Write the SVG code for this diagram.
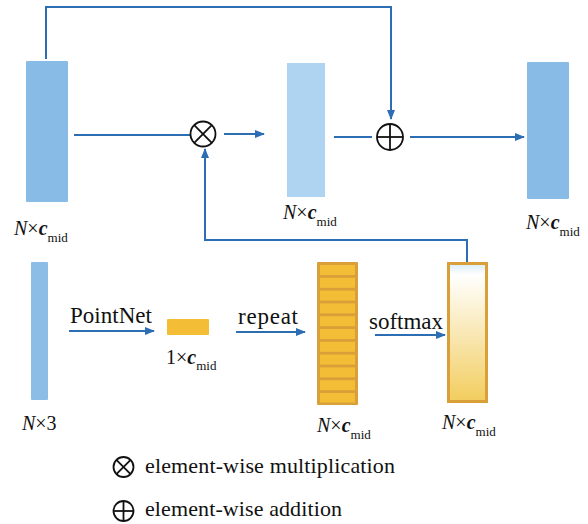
<svg xmlns="http://www.w3.org/2000/svg" width="588" height="524" viewBox="0 0 588 524">
<defs>
<style>
.conn{fill:none;stroke:#2C6DB4;stroke-width:2}
.op{fill:#fff;stroke:#111;stroke-width:1.8}
.opl{stroke:#111;stroke-width:1.8}
.lbl{font-family:"Liberation Serif",serif;font-size:20px;fill:#111}
.big{font-size:23px}
.leg{font-size:22px}
.sub{font-size:13px;font-style:normal;font-weight:normal}
.it{font-style:italic}
.bit{font-style:italic;font-weight:bold}
.blue{fill:#88BBE6}
.light{fill:#AFD4F1}
.org{fill:#F3BD35}
</style>
<marker id="ah" viewBox="0 0 10 10" refX="9" refY="5" markerWidth="5" markerHeight="5" orient="auto" markerUnits="strokeWidth">
<path d="M0,1 L10,5 L0,9 Z" fill="#2C6DB4"/>
</marker>
<linearGradient id="gr" x1="0" y1="0" x2="0" y2="1">
<stop offset="0" stop-color="#D8ECF7"/>
<stop offset="0.08" stop-color="#FFFFFF"/>
<stop offset="1" stop-color="#F2CD5E"/>
</linearGradient>
</defs>
<rect width="588" height="524" fill="#fff"/>

<g id="connectors">
<polyline class="conn" points="46,59 46,7 391,7 391,119" marker-end="url(#ah)"/>
<line class="conn" x1="74" y1="135" x2="190" y2="135"/>
<line class="conn" x1="224" y1="134" x2="264" y2="134" marker-end="url(#ah)"/>
<line class="conn" x1="334" y1="137" x2="372" y2="137"/>
<line class="conn" x1="410" y1="137" x2="524" y2="137" marker-end="url(#ah)"/>
<polyline class="conn" points="467,262 467,240 205,240 205,149" marker-end="url(#ah)"/>
<line class="conn" x1="69" y1="331" x2="154" y2="331" marker-end="url(#ah)"/>
<line class="conn" x1="236" y1="332" x2="305" y2="332" marker-end="url(#ah)"/>
<line class="conn" x1="375" y1="335" x2="445" y2="335" marker-end="url(#ah)"/>
</g>

<g id="input-features">
<rect class="blue" x="26" y="61" width="42" height="141" rx="1"/>
<text class="lbl" x="14" y="235"><tspan class="it">N</tspan>×<tspan class="bit">c</tspan><tspan class="sub" dy="7">mid</tspan></text>
</g>

<g id="multiply">
<circle class="op" cx="203" cy="134" r="12.5"/>
<line class="opl" x1="194.2" y1="125.2" x2="211.8" y2="142.8"/>
<line class="opl" x1="211.8" y1="125.2" x2="194.2" y2="142.8"/>
</g>

<g id="weighted-features">
<rect class="light" x="287" y="63" width="38" height="134"/>
<text class="lbl" x="283" y="219"><tspan class="it">N</tspan>×<tspan class="bit">c</tspan><tspan class="sub" dy="7">mid</tspan></text>
</g>

<g id="add">
<circle class="op" cx="390" cy="137" r="13"/>
<line class="opl" x1="377" y1="137" x2="403" y2="137"/>
<line class="opl" x1="390" y1="124" x2="390" y2="150"/>
</g>

<g id="output-features">
<rect class="blue" x="527" y="62" width="42" height="137" rx="1"/>
<text class="lbl" x="526" y="229"><tspan class="it">N</tspan>×<tspan class="bit">c</tspan><tspan class="sub" dy="7">mid</tspan></text>
</g>

<g id="points">
<rect fill="#8BBDE6" x="31" y="262" width="17" height="138" rx="1"/>
<text class="lbl" x="22" y="430"><tspan class="it">N</tspan>×3</text>
</g>

<g id="pointnet-label">
<text class="lbl big" x="70" y="323" textLength="82">PointNet</text>
</g>

<g id="global-feature">
<rect class="org" x="167" y="319" width="42" height="16" rx="1"/>
<text class="lbl" x="166" y="364">1×<tspan class="bit">c</tspan><tspan class="sub" dy="6">mid</tspan></text>
</g>

<g id="repeat-label">
<text class="lbl big" x="238" y="324" textLength="60">repeat</text>
</g>

<g id="repeated-features">
<rect x="317" y="262" width="41" height="143" fill="#D99F38" rx="1"/>
<g class="org">
<rect x="320" y="265" width="35" height="10"/>
<rect x="320" y="277.8" width="35" height="10"/>
<rect x="320" y="290.6" width="35" height="10"/>
<rect x="320" y="303.4" width="35" height="10"/>
<rect x="320" y="316.2" width="35" height="10"/>
<rect x="320" y="329" width="35" height="10"/>
<rect x="320" y="341.8" width="35" height="10"/>
<rect x="320" y="354.6" width="35" height="10"/>
<rect x="320" y="367.4" width="35" height="10"/>
<rect x="320" y="380.2" width="35" height="10"/>
<rect x="320" y="393" width="35" height="9.5"/>
</g>
<text class="lbl" x="317" y="432"><tspan class="it">N</tspan>×<tspan class="bit">c</tspan><tspan class="sub" dy="7">mid</tspan></text>
</g>

<g id="softmax-label">
<text class="lbl big" x="369" y="329" textLength="74">softmax</text>
</g>

<g id="attention-weights">
<rect x="448.5" y="263.5" width="38" height="138" fill="url(#gr)" stroke="#D99F38" stroke-width="3"/>
<text class="lbl" x="442" y="429"><tspan class="it">N</tspan>×<tspan class="bit">c</tspan><tspan class="sub" dy="7">mid</tspan></text>
</g>

<g id="legend">
<circle class="op" cx="123.5" cy="467" r="10"/>
<line class="opl" x1="116.4" y1="459.9" x2="130.6" y2="474.1"/>
<line class="opl" x1="130.6" y1="459.9" x2="116.4" y2="474.1"/>
<text class="lbl leg" x="145" y="473" textLength="250">element-wise multiplication</text>
<circle class="op" cx="123.5" cy="511" r="10"/>
<line class="opl" x1="113.5" y1="511" x2="133.5" y2="511"/>
<line class="opl" x1="123.5" y1="501" x2="123.5" y2="521"/>
<text class="lbl leg" x="145" y="516" textLength="197">element-wise addition</text>
</g>
</svg>
